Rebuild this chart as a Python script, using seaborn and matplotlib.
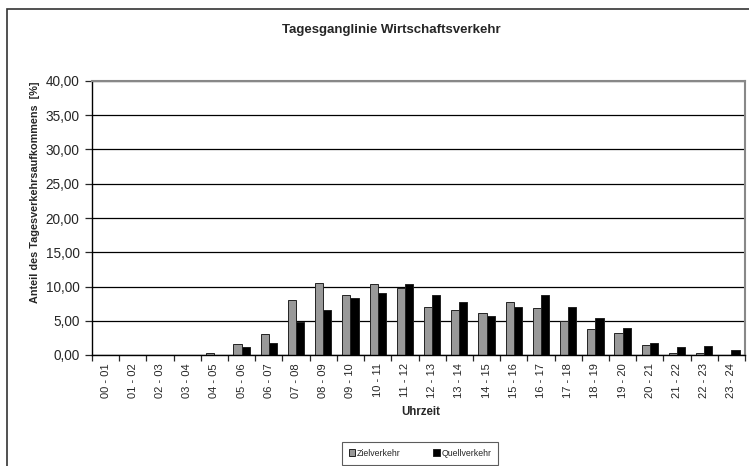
import pandas as pd
import matplotlib
matplotlib.use('Agg')
import matplotlib.pyplot as plt
import seaborn as sns
from matplotlib.ticker import FixedLocator, FuncFormatter
from matplotlib.patches import Rectangle

sns.set_style('white')
plt.rcParams['font.family'] = ['Liberation Sans', 'DejaVu Sans']

# Daten
stunden = [f"{h:02d} - {h + 1:02d}" for h in range(24)]
ziel = [0.0, 0.0, 0.0, 0.0, 0.35, 1.55, 3.1, 8.0, 10.5, 8.8, 10.35, 9.85,
        7.0, 6.6, 6.15, 7.75, 6.8, 5.0, 3.85, 3.25, 1.45, 0.35, 0.35, 0.05]
quell = [0.0, 0.0, 0.0, 0.0, 0.0, 1.15, 1.75, 4.75, 6.6, 8.25, 9.05, 10.4,
         8.8, 7.8, 5.65, 7.05, 8.8, 7.05, 5.4, 3.9, 1.75, 1.1, 1.3, 0.75]
serien = ['Zielverkehr', 'Quellverkehr']
farben = ['#999999', '#000000']

df = pd.DataFrame({
    'Uhrzeit': stunden * 2,
    'Anteil': ziel + quell,
    'Serie': [serien[0]] * 24 + [serien[1]] * 24,
})

fig = plt.figure(figsize=(7.49, 4.66), dpi=100)
ax = fig.add_axes([92 / 749, 1 - 355 / 466, 653 / 749, 274 / 466])

# Rahmen um das ganze Diagramm
fig.patches.append(Rectangle((7 / 749, -0.05), 1.0, 1 - 9 / 466 + 0.05, transform=fig.transFigure,
                             fill=False, edgecolor='#333333', linewidth=1.2))

sns.barplot(data=df, x='Uhrzeit', y='Anteil', hue='Serie', palette=farben, width=0.6,
            edgecolor='#222222', linewidth=0.7, ax=ax, legend=True)

ax.set_ylim(0, 40)
ax.set_xlim(-0.5, 23.5)
ax.set_yticks(range(0, 41, 5))
ax.yaxis.set_major_formatter(FuncFormatter(lambda v, p: f"{v:.2f}".replace('.', ',')))
ax.grid(axis='y', color='black', linewidth=0.9)
ax.set_axisbelow(True)

ax.set_xticks(range(24))
ax.set_xticklabels(stunden, rotation=90, fontsize=8)
ax.xaxis.set_minor_locator(FixedLocator([i - 0.5 for i in range(25)]))
ax.tick_params(axis='x', which='major', length=0, pad=6)
ax.tick_params(axis='x', which='minor', length=4, width=0.9, direction='out', bottom=True)
ax.tick_params(axis='y', length=5, width=0.9, direction='out', left=True, labelsize=9.8, pad=4)

for side in ['left', 'bottom']:
    ax.spines[side].set_color('black')
    ax.spines[side].set_linewidth(1.0)
for side in ['top', 'right']:
    ax.spines[side].set_color('#888888')
    ax.spines[side].set_linewidth(1.5)

ax.set_xlabel('Uhrzeit', fontsize=8.3, fontweight='bold')
ax.xaxis.set_label_coords(421 / 749, 1 - 412 / 466, transform=fig.transFigure)
ax.set_ylabel('Anteil des Tagesverkehrsaufkommens  [%]', fontsize=7.8, fontweight='bold')
ax.yaxis.set_label_coords(35 / 749, 1 - 192 / 466, transform=fig.transFigure)
ax.yaxis.label.set_va('center')
ax.xaxis.label.set_va('center')
fig.text(391 / 749, 1 - 30 / 466, 'Tagesganglinie Wirtschaftsverkehr', ha='center', va='center',
         fontsize=9.5, fontweight='bold')

ax.legend(loc='center', bbox_to_anchor=(420 / 749, 1 - 453 / 466), bbox_transform=fig.transFigure,
          ncol=2, fontsize=6.3, frameon=True, fancybox=False, edgecolor='#333333', handlelength=0.7,
          handleheight=0.7, handletextpad=0.2, columnspacing=3.8, borderpad=0.8)
ax.get_legend().get_frame().set_linewidth(0.8)

fig.savefig('out.png', dpi=100)
